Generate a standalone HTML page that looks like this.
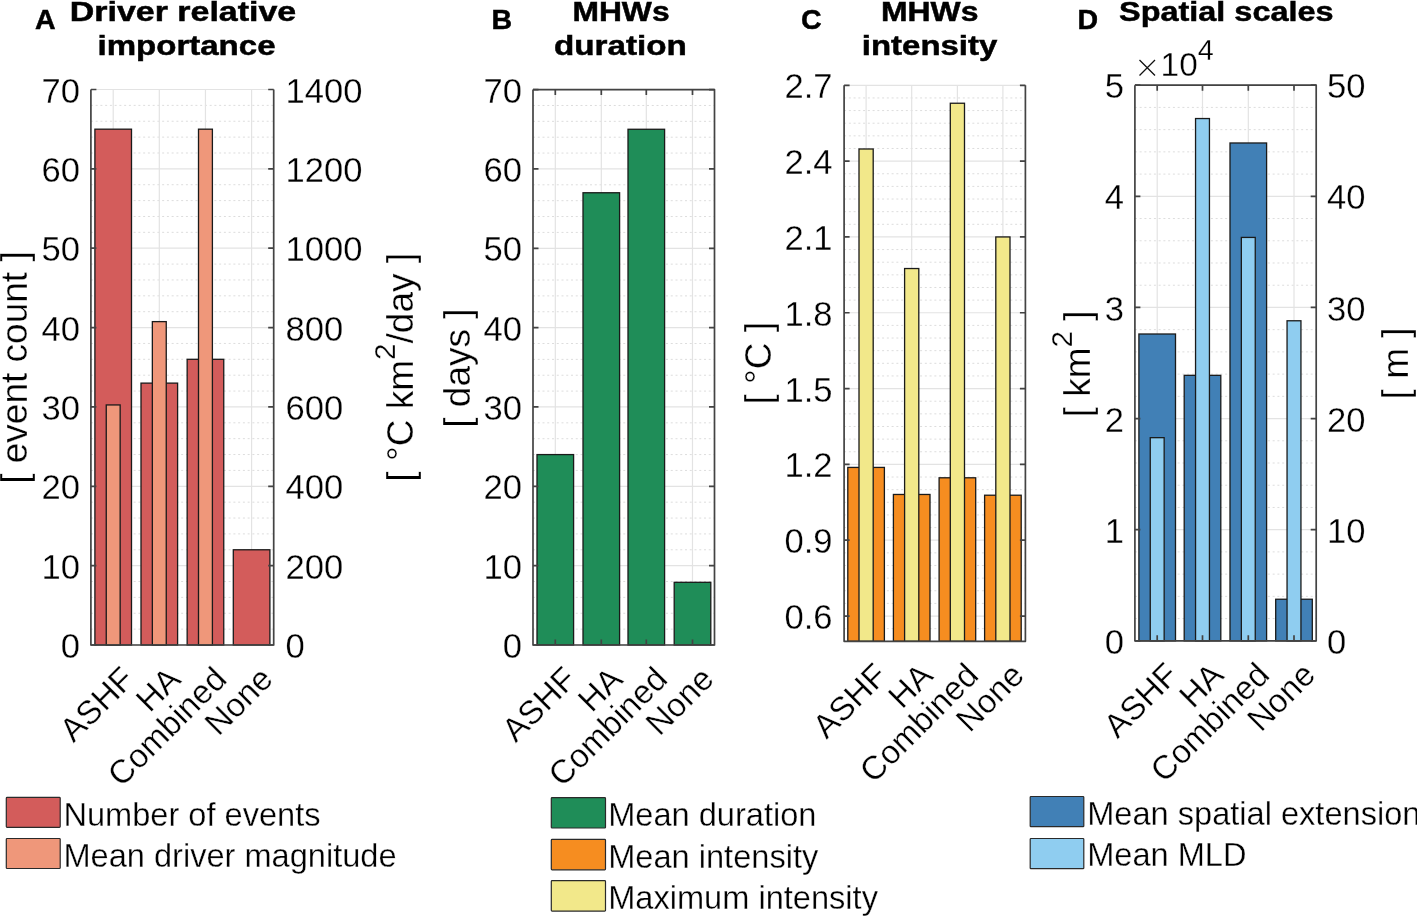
<!DOCTYPE html>
<html><head><meta charset="utf-8"><style>
html,body{margin:0;padding:0;background:#fff;overflow:hidden}
svg{display:block;will-change:transform}
text{font-family:"Liberation Sans", sans-serif;fill:#000;stroke:#fff;stroke-width:0.3px}
text.b{stroke:#000;stroke-width:0.5px}
</style></head><body>
<svg width="1417" height="917" viewBox="0 0 1417 917">
<rect width="1417" height="917" fill="#fff"/>
<line x1="90.9" y1="629.13" x2="273.7" y2="629.13" stroke="#dddddd" stroke-width="1" stroke-dasharray="2 2.75"/>
<line x1="90.9" y1="613.26" x2="273.7" y2="613.26" stroke="#dddddd" stroke-width="1" stroke-dasharray="2 2.75"/>
<line x1="90.9" y1="597.39" x2="273.7" y2="597.39" stroke="#dddddd" stroke-width="1" stroke-dasharray="2 2.75"/>
<line x1="90.9" y1="581.51" x2="273.7" y2="581.51" stroke="#dddddd" stroke-width="1" stroke-dasharray="2 2.75"/>
<line x1="90.9" y1="549.77" x2="273.7" y2="549.77" stroke="#dddddd" stroke-width="1" stroke-dasharray="2 2.75"/>
<line x1="90.9" y1="533.9" x2="273.7" y2="533.9" stroke="#dddddd" stroke-width="1" stroke-dasharray="2 2.75"/>
<line x1="90.9" y1="518.03" x2="273.7" y2="518.03" stroke="#dddddd" stroke-width="1" stroke-dasharray="2 2.75"/>
<line x1="90.9" y1="502.16" x2="273.7" y2="502.16" stroke="#dddddd" stroke-width="1" stroke-dasharray="2 2.75"/>
<line x1="90.9" y1="470.41" x2="273.7" y2="470.41" stroke="#dddddd" stroke-width="1" stroke-dasharray="2 2.75"/>
<line x1="90.9" y1="454.54" x2="273.7" y2="454.54" stroke="#dddddd" stroke-width="1" stroke-dasharray="2 2.75"/>
<line x1="90.9" y1="438.67" x2="273.7" y2="438.67" stroke="#dddddd" stroke-width="1" stroke-dasharray="2 2.75"/>
<line x1="90.9" y1="422.8" x2="273.7" y2="422.8" stroke="#dddddd" stroke-width="1" stroke-dasharray="2 2.75"/>
<line x1="90.9" y1="391.06" x2="273.7" y2="391.06" stroke="#dddddd" stroke-width="1" stroke-dasharray="2 2.75"/>
<line x1="90.9" y1="375.19" x2="273.7" y2="375.19" stroke="#dddddd" stroke-width="1" stroke-dasharray="2 2.75"/>
<line x1="90.9" y1="359.31" x2="273.7" y2="359.31" stroke="#dddddd" stroke-width="1" stroke-dasharray="2 2.75"/>
<line x1="90.9" y1="343.44" x2="273.7" y2="343.44" stroke="#dddddd" stroke-width="1" stroke-dasharray="2 2.75"/>
<line x1="90.9" y1="311.7" x2="273.7" y2="311.7" stroke="#dddddd" stroke-width="1" stroke-dasharray="2 2.75"/>
<line x1="90.9" y1="295.83" x2="273.7" y2="295.83" stroke="#dddddd" stroke-width="1" stroke-dasharray="2 2.75"/>
<line x1="90.9" y1="279.96" x2="273.7" y2="279.96" stroke="#dddddd" stroke-width="1" stroke-dasharray="2 2.75"/>
<line x1="90.9" y1="264.09" x2="273.7" y2="264.09" stroke="#dddddd" stroke-width="1" stroke-dasharray="2 2.75"/>
<line x1="90.9" y1="232.34" x2="273.7" y2="232.34" stroke="#dddddd" stroke-width="1" stroke-dasharray="2 2.75"/>
<line x1="90.9" y1="216.47" x2="273.7" y2="216.47" stroke="#dddddd" stroke-width="1" stroke-dasharray="2 2.75"/>
<line x1="90.9" y1="200.6" x2="273.7" y2="200.6" stroke="#dddddd" stroke-width="1" stroke-dasharray="2 2.75"/>
<line x1="90.9" y1="184.73" x2="273.7" y2="184.73" stroke="#dddddd" stroke-width="1" stroke-dasharray="2 2.75"/>
<line x1="90.9" y1="152.99" x2="273.7" y2="152.99" stroke="#dddddd" stroke-width="1" stroke-dasharray="2 2.75"/>
<line x1="90.9" y1="137.11" x2="273.7" y2="137.11" stroke="#dddddd" stroke-width="1" stroke-dasharray="2 2.75"/>
<line x1="90.9" y1="121.24" x2="273.7" y2="121.24" stroke="#dddddd" stroke-width="1" stroke-dasharray="2 2.75"/>
<line x1="90.9" y1="105.37" x2="273.7" y2="105.37" stroke="#dddddd" stroke-width="1" stroke-dasharray="2 2.75"/>
<line x1="90.9" y1="645" x2="273.7" y2="645" stroke="#e3e3e3" stroke-width="1.2"/>
<line x1="90.9" y1="565.64" x2="273.7" y2="565.64" stroke="#e3e3e3" stroke-width="1.2"/>
<line x1="90.9" y1="486.29" x2="273.7" y2="486.29" stroke="#e3e3e3" stroke-width="1.2"/>
<line x1="90.9" y1="406.93" x2="273.7" y2="406.93" stroke="#e3e3e3" stroke-width="1.2"/>
<line x1="90.9" y1="327.57" x2="273.7" y2="327.57" stroke="#e3e3e3" stroke-width="1.2"/>
<line x1="90.9" y1="248.21" x2="273.7" y2="248.21" stroke="#e3e3e3" stroke-width="1.2"/>
<line x1="90.9" y1="168.86" x2="273.7" y2="168.86" stroke="#e3e3e3" stroke-width="1.2"/>
<line x1="90.9" y1="89.5" x2="273.7" y2="89.5" stroke="#e3e3e3" stroke-width="1.2"/>
<line x1="113.2" y1="89.5" x2="113.2" y2="645" stroke="#e3e3e3" stroke-width="1.2"/>
<line x1="159.3" y1="89.5" x2="159.3" y2="645" stroke="#e3e3e3" stroke-width="1.2"/>
<line x1="205.45" y1="89.5" x2="205.45" y2="645" stroke="#e3e3e3" stroke-width="1.2"/>
<line x1="251.6" y1="89.5" x2="251.6" y2="645" stroke="#e3e3e3" stroke-width="1.2"/>
<rect x="94.9" y="129.18" width="36.6" height="515.82" fill="#d35c5b" stroke="#1a1a1a" stroke-width="1.3"/>
<rect x="141" y="383.12" width="36.6" height="261.88" fill="#d35c5b" stroke="#1a1a1a" stroke-width="1.3"/>
<rect x="187.15" y="359.31" width="36.6" height="285.69" fill="#d35c5b" stroke="#1a1a1a" stroke-width="1.3"/>
<rect x="233.3" y="549.77" width="36.6" height="95.23" fill="#d35c5b" stroke="#1a1a1a" stroke-width="1.3"/>
<rect x="106.25" y="404.94" width="13.9" height="240.06" fill="#ef977a" stroke="#1a1a1a" stroke-width="1.3"/>
<rect x="152.35" y="321.62" width="13.9" height="323.38" fill="#ef977a" stroke="#1a1a1a" stroke-width="1.3"/>
<rect x="198.5" y="129.18" width="13.9" height="515.82" fill="#ef977a" stroke="#1a1a1a" stroke-width="1.3"/>
<path d="M90.9 89.5 V645 H273.7 V89.5" fill="none" stroke="#434343" stroke-width="1.7" stroke-linejoin="round"/>
<path d="M90.9 645 h5.5 M273.7 645 h-5.5 M90.9 565.64 h5.5 M273.7 565.64 h-5.5 M90.9 486.29 h5.5 M273.7 486.29 h-5.5 M90.9 406.93 h5.5 M273.7 406.93 h-5.5 M90.9 327.57 h5.5 M273.7 327.57 h-5.5 M90.9 248.21 h5.5 M273.7 248.21 h-5.5 M90.9 168.86 h5.5 M273.7 168.86 h-5.5 M90.9 89.5 h5.5 M273.7 89.5 h-5.5" fill="none" stroke="#434343" stroke-width="1.7"/>
<text x="80" y="658.1" text-anchor="end" font-size="34.6">0</text>
<text x="80" y="578.74" text-anchor="end" font-size="34.6">10</text>
<text x="80" y="499.39" text-anchor="end" font-size="34.6">20</text>
<text x="80" y="420.03" text-anchor="end" font-size="34.6">30</text>
<text x="80" y="340.67" text-anchor="end" font-size="34.6">40</text>
<text x="80" y="261.31" text-anchor="end" font-size="34.6">50</text>
<text x="80" y="181.96" text-anchor="end" font-size="34.6">60</text>
<text x="80" y="102.6" text-anchor="end" font-size="34.6">70</text>
<text x="285.5" y="658.1" text-anchor="start" font-size="34.6">0</text>
<text x="285.5" y="578.74" text-anchor="start" font-size="34.6">200</text>
<text x="285.5" y="499.39" text-anchor="start" font-size="34.6">400</text>
<text x="285.5" y="420.03" text-anchor="start" font-size="34.6">600</text>
<text x="285.5" y="340.67" text-anchor="start" font-size="34.6">800</text>
<text x="285.5" y="261.31" text-anchor="start" font-size="34.6">1000</text>
<text x="285.5" y="181.96" text-anchor="start" font-size="34.6">1200</text>
<text x="285.5" y="102.6" text-anchor="start" font-size="34.6">1400</text>
<text transform="translate(136.2,681) rotate(-45)" text-anchor="end" font-size="33.2">ASHF</text>
<text transform="translate(182.3,681) rotate(-45)" text-anchor="end" font-size="33.2">HA</text>
<text transform="translate(228.45,681) rotate(-45)" text-anchor="end" font-size="33.2">Combined</text>
<text transform="translate(274.6,681) rotate(-45)" text-anchor="end" font-size="33.2">None</text>
<text transform="translate(27.3,367.55) rotate(-90)" text-anchor="middle" font-size="37">[ event count ]</text>
<text transform="translate(413,367.3) rotate(-90)" text-anchor="middle" font-size="37">[ °C km<tspan dy="-17.8" font-size="29.6">2</tspan><tspan dy="17.8">/day ]</tspan></text>
<text x="183" y="21" text-anchor="middle" font-size="27.5" font-weight="bold" class="b" textLength="226.4" lengthAdjust="spacingAndGlyphs">Driver relative</text>
<text x="186.5" y="55.4" text-anchor="middle" font-size="27.5" font-weight="bold" class="b" textLength="178" lengthAdjust="spacingAndGlyphs">importance</text>
<text x="35" y="29.3" font-size="28.5" font-weight="bold" class="b">A</text>
<line x1="533" y1="629.13" x2="714.5" y2="629.13" stroke="#dddddd" stroke-width="1" stroke-dasharray="2 2.75"/>
<line x1="533" y1="613.26" x2="714.5" y2="613.26" stroke="#dddddd" stroke-width="1" stroke-dasharray="2 2.75"/>
<line x1="533" y1="597.39" x2="714.5" y2="597.39" stroke="#dddddd" stroke-width="1" stroke-dasharray="2 2.75"/>
<line x1="533" y1="581.53" x2="714.5" y2="581.53" stroke="#dddddd" stroke-width="1" stroke-dasharray="2 2.75"/>
<line x1="533" y1="549.79" x2="714.5" y2="549.79" stroke="#dddddd" stroke-width="1" stroke-dasharray="2 2.75"/>
<line x1="533" y1="533.92" x2="714.5" y2="533.92" stroke="#dddddd" stroke-width="1" stroke-dasharray="2 2.75"/>
<line x1="533" y1="518.05" x2="714.5" y2="518.05" stroke="#dddddd" stroke-width="1" stroke-dasharray="2 2.75"/>
<line x1="533" y1="502.18" x2="714.5" y2="502.18" stroke="#dddddd" stroke-width="1" stroke-dasharray="2 2.75"/>
<line x1="533" y1="470.45" x2="714.5" y2="470.45" stroke="#dddddd" stroke-width="1" stroke-dasharray="2 2.75"/>
<line x1="533" y1="454.58" x2="714.5" y2="454.58" stroke="#dddddd" stroke-width="1" stroke-dasharray="2 2.75"/>
<line x1="533" y1="438.71" x2="714.5" y2="438.71" stroke="#dddddd" stroke-width="1" stroke-dasharray="2 2.75"/>
<line x1="533" y1="422.84" x2="714.5" y2="422.84" stroke="#dddddd" stroke-width="1" stroke-dasharray="2 2.75"/>
<line x1="533" y1="391.1" x2="714.5" y2="391.1" stroke="#dddddd" stroke-width="1" stroke-dasharray="2 2.75"/>
<line x1="533" y1="375.23" x2="714.5" y2="375.23" stroke="#dddddd" stroke-width="1" stroke-dasharray="2 2.75"/>
<line x1="533" y1="359.37" x2="714.5" y2="359.37" stroke="#dddddd" stroke-width="1" stroke-dasharray="2 2.75"/>
<line x1="533" y1="343.5" x2="714.5" y2="343.5" stroke="#dddddd" stroke-width="1" stroke-dasharray="2 2.75"/>
<line x1="533" y1="311.76" x2="714.5" y2="311.76" stroke="#dddddd" stroke-width="1" stroke-dasharray="2 2.75"/>
<line x1="533" y1="295.89" x2="714.5" y2="295.89" stroke="#dddddd" stroke-width="1" stroke-dasharray="2 2.75"/>
<line x1="533" y1="280.02" x2="714.5" y2="280.02" stroke="#dddddd" stroke-width="1" stroke-dasharray="2 2.75"/>
<line x1="533" y1="264.15" x2="714.5" y2="264.15" stroke="#dddddd" stroke-width="1" stroke-dasharray="2 2.75"/>
<line x1="533" y1="232.42" x2="714.5" y2="232.42" stroke="#dddddd" stroke-width="1" stroke-dasharray="2 2.75"/>
<line x1="533" y1="216.55" x2="714.5" y2="216.55" stroke="#dddddd" stroke-width="1" stroke-dasharray="2 2.75"/>
<line x1="533" y1="200.68" x2="714.5" y2="200.68" stroke="#dddddd" stroke-width="1" stroke-dasharray="2 2.75"/>
<line x1="533" y1="184.81" x2="714.5" y2="184.81" stroke="#dddddd" stroke-width="1" stroke-dasharray="2 2.75"/>
<line x1="533" y1="153.07" x2="714.5" y2="153.07" stroke="#dddddd" stroke-width="1" stroke-dasharray="2 2.75"/>
<line x1="533" y1="137.21" x2="714.5" y2="137.21" stroke="#dddddd" stroke-width="1" stroke-dasharray="2 2.75"/>
<line x1="533" y1="121.34" x2="714.5" y2="121.34" stroke="#dddddd" stroke-width="1" stroke-dasharray="2 2.75"/>
<line x1="533" y1="105.47" x2="714.5" y2="105.47" stroke="#dddddd" stroke-width="1" stroke-dasharray="2 2.75"/>
<line x1="533" y1="645" x2="714.5" y2="645" stroke="#e3e3e3" stroke-width="1.2"/>
<line x1="533" y1="565.66" x2="714.5" y2="565.66" stroke="#e3e3e3" stroke-width="1.2"/>
<line x1="533" y1="486.31" x2="714.5" y2="486.31" stroke="#e3e3e3" stroke-width="1.2"/>
<line x1="533" y1="406.97" x2="714.5" y2="406.97" stroke="#e3e3e3" stroke-width="1.2"/>
<line x1="533" y1="327.63" x2="714.5" y2="327.63" stroke="#e3e3e3" stroke-width="1.2"/>
<line x1="533" y1="248.29" x2="714.5" y2="248.29" stroke="#e3e3e3" stroke-width="1.2"/>
<line x1="533" y1="168.94" x2="714.5" y2="168.94" stroke="#e3e3e3" stroke-width="1.2"/>
<line x1="533" y1="89.6" x2="714.5" y2="89.6" stroke="#e3e3e3" stroke-width="1.2"/>
<line x1="555.3" y1="89.6" x2="555.3" y2="645" stroke="#e3e3e3" stroke-width="1.2"/>
<line x1="601.3" y1="89.6" x2="601.3" y2="645" stroke="#e3e3e3" stroke-width="1.2"/>
<line x1="646.3" y1="89.6" x2="646.3" y2="645" stroke="#e3e3e3" stroke-width="1.2"/>
<line x1="692.5" y1="89.6" x2="692.5" y2="645" stroke="#e3e3e3" stroke-width="1.2"/>
<rect x="537" y="454.58" width="36.6" height="190.42" fill="#1f8d58" stroke="#1a1a1a" stroke-width="1.3"/>
<rect x="583" y="192.75" width="36.6" height="452.25" fill="#1f8d58" stroke="#1a1a1a" stroke-width="1.3"/>
<rect x="628" y="129.27" width="36.6" height="515.73" fill="#1f8d58" stroke="#1a1a1a" stroke-width="1.3"/>
<rect x="674.2" y="582.32" width="36.6" height="62.68" fill="#1f8d58" stroke="#1a1a1a" stroke-width="1.3"/>
<path d="M533 89.6 V645 H714.5 V89.6 H533" fill="none" stroke="#434343" stroke-width="1.7" stroke-linejoin="round"/>
<path d="M533 645 h5.5 M714.5 645 h-5.5 M533 565.66 h5.5 M714.5 565.66 h-5.5 M533 486.31 h5.5 M714.5 486.31 h-5.5 M533 406.97 h5.5 M714.5 406.97 h-5.5 M533 327.63 h5.5 M714.5 327.63 h-5.5 M533 248.29 h5.5 M714.5 248.29 h-5.5 M533 168.94 h5.5 M714.5 168.94 h-5.5 M533 89.6 h5.5 M714.5 89.6 h-5.5 M555.3 89.6 v5.5 M601.3 89.6 v5.5 M646.3 89.6 v5.5 M692.5 89.6 v5.5 M555.3 645 v-5.5 M601.3 645 v-5.5 M646.3 645 v-5.5 M692.5 645 v-5.5" fill="none" stroke="#434343" stroke-width="1.7"/>
<text x="522" y="658.1" text-anchor="end" font-size="34.6">0</text>
<text x="522" y="578.76" text-anchor="end" font-size="34.6">10</text>
<text x="522" y="499.41" text-anchor="end" font-size="34.6">20</text>
<text x="522" y="420.07" text-anchor="end" font-size="34.6">30</text>
<text x="522" y="340.73" text-anchor="end" font-size="34.6">40</text>
<text x="522" y="261.39" text-anchor="end" font-size="34.6">50</text>
<text x="522" y="182.04" text-anchor="end" font-size="34.6">60</text>
<text x="522" y="102.7" text-anchor="end" font-size="34.6">70</text>
<text transform="translate(578.3,681) rotate(-45)" text-anchor="end" font-size="33.2">ASHF</text>
<text transform="translate(624.3,681) rotate(-45)" text-anchor="end" font-size="33.2">HA</text>
<text transform="translate(669.3,681) rotate(-45)" text-anchor="end" font-size="33.2">Combined</text>
<text transform="translate(715.5,681) rotate(-45)" text-anchor="end" font-size="33.2">None</text>
<text transform="translate(469.5,368.1) rotate(-90)" text-anchor="middle" font-size="37">[ days ]</text>
<text x="621" y="21" text-anchor="middle" font-size="27.5" font-weight="bold" class="b" textLength="97.2" lengthAdjust="spacingAndGlyphs">MHWs</text>
<text x="620.35" y="55.4" text-anchor="middle" font-size="27.5" font-weight="bold" class="b" textLength="132.9" lengthAdjust="spacingAndGlyphs">duration</text>
<text x="491.5" y="29.3" font-size="28.5" font-weight="bold" class="b">B</text>
<line x1="844.1" y1="641.3" x2="1025.4" y2="641.3" stroke="#dddddd" stroke-width="1" stroke-dasharray="2 2.75"/>
<line x1="844.1" y1="628.66" x2="1025.4" y2="628.66" stroke="#dddddd" stroke-width="1" stroke-dasharray="2 2.75"/>
<line x1="844.1" y1="603.39" x2="1025.4" y2="603.39" stroke="#dddddd" stroke-width="1" stroke-dasharray="2 2.75"/>
<line x1="844.1" y1="590.75" x2="1025.4" y2="590.75" stroke="#dddddd" stroke-width="1" stroke-dasharray="2 2.75"/>
<line x1="844.1" y1="578.12" x2="1025.4" y2="578.12" stroke="#dddddd" stroke-width="1" stroke-dasharray="2 2.75"/>
<line x1="844.1" y1="565.48" x2="1025.4" y2="565.48" stroke="#dddddd" stroke-width="1" stroke-dasharray="2 2.75"/>
<line x1="844.1" y1="552.85" x2="1025.4" y2="552.85" stroke="#dddddd" stroke-width="1" stroke-dasharray="2 2.75"/>
<line x1="844.1" y1="527.57" x2="1025.4" y2="527.57" stroke="#dddddd" stroke-width="1" stroke-dasharray="2 2.75"/>
<line x1="844.1" y1="514.94" x2="1025.4" y2="514.94" stroke="#dddddd" stroke-width="1" stroke-dasharray="2 2.75"/>
<line x1="844.1" y1="502.3" x2="1025.4" y2="502.3" stroke="#dddddd" stroke-width="1" stroke-dasharray="2 2.75"/>
<line x1="844.1" y1="489.66" x2="1025.4" y2="489.66" stroke="#dddddd" stroke-width="1" stroke-dasharray="2 2.75"/>
<line x1="844.1" y1="477.03" x2="1025.4" y2="477.03" stroke="#dddddd" stroke-width="1" stroke-dasharray="2 2.75"/>
<line x1="844.1" y1="451.75" x2="1025.4" y2="451.75" stroke="#dddddd" stroke-width="1" stroke-dasharray="2 2.75"/>
<line x1="844.1" y1="439.12" x2="1025.4" y2="439.12" stroke="#dddddd" stroke-width="1" stroke-dasharray="2 2.75"/>
<line x1="844.1" y1="426.48" x2="1025.4" y2="426.48" stroke="#dddddd" stroke-width="1" stroke-dasharray="2 2.75"/>
<line x1="844.1" y1="413.85" x2="1025.4" y2="413.85" stroke="#dddddd" stroke-width="1" stroke-dasharray="2 2.75"/>
<line x1="844.1" y1="401.21" x2="1025.4" y2="401.21" stroke="#dddddd" stroke-width="1" stroke-dasharray="2 2.75"/>
<line x1="844.1" y1="375.94" x2="1025.4" y2="375.94" stroke="#dddddd" stroke-width="1" stroke-dasharray="2 2.75"/>
<line x1="844.1" y1="363.3" x2="1025.4" y2="363.3" stroke="#dddddd" stroke-width="1" stroke-dasharray="2 2.75"/>
<line x1="844.1" y1="350.66" x2="1025.4" y2="350.66" stroke="#dddddd" stroke-width="1" stroke-dasharray="2 2.75"/>
<line x1="844.1" y1="338.03" x2="1025.4" y2="338.03" stroke="#dddddd" stroke-width="1" stroke-dasharray="2 2.75"/>
<line x1="844.1" y1="325.39" x2="1025.4" y2="325.39" stroke="#dddddd" stroke-width="1" stroke-dasharray="2 2.75"/>
<line x1="844.1" y1="300.12" x2="1025.4" y2="300.12" stroke="#dddddd" stroke-width="1" stroke-dasharray="2 2.75"/>
<line x1="844.1" y1="287.48" x2="1025.4" y2="287.48" stroke="#dddddd" stroke-width="1" stroke-dasharray="2 2.75"/>
<line x1="844.1" y1="274.85" x2="1025.4" y2="274.85" stroke="#dddddd" stroke-width="1" stroke-dasharray="2 2.75"/>
<line x1="844.1" y1="262.21" x2="1025.4" y2="262.21" stroke="#dddddd" stroke-width="1" stroke-dasharray="2 2.75"/>
<line x1="844.1" y1="249.57" x2="1025.4" y2="249.57" stroke="#dddddd" stroke-width="1" stroke-dasharray="2 2.75"/>
<line x1="844.1" y1="224.3" x2="1025.4" y2="224.3" stroke="#dddddd" stroke-width="1" stroke-dasharray="2 2.75"/>
<line x1="844.1" y1="211.66" x2="1025.4" y2="211.66" stroke="#dddddd" stroke-width="1" stroke-dasharray="2 2.75"/>
<line x1="844.1" y1="199.03" x2="1025.4" y2="199.03" stroke="#dddddd" stroke-width="1" stroke-dasharray="2 2.75"/>
<line x1="844.1" y1="186.39" x2="1025.4" y2="186.39" stroke="#dddddd" stroke-width="1" stroke-dasharray="2 2.75"/>
<line x1="844.1" y1="173.75" x2="1025.4" y2="173.75" stroke="#dddddd" stroke-width="1" stroke-dasharray="2 2.75"/>
<line x1="844.1" y1="148.48" x2="1025.4" y2="148.48" stroke="#dddddd" stroke-width="1" stroke-dasharray="2 2.75"/>
<line x1="844.1" y1="135.85" x2="1025.4" y2="135.85" stroke="#dddddd" stroke-width="1" stroke-dasharray="2 2.75"/>
<line x1="844.1" y1="123.21" x2="1025.4" y2="123.21" stroke="#dddddd" stroke-width="1" stroke-dasharray="2 2.75"/>
<line x1="844.1" y1="110.57" x2="1025.4" y2="110.57" stroke="#dddddd" stroke-width="1" stroke-dasharray="2 2.75"/>
<line x1="844.1" y1="97.94" x2="1025.4" y2="97.94" stroke="#dddddd" stroke-width="1" stroke-dasharray="2 2.75"/>
<line x1="844.1" y1="616.03" x2="1025.4" y2="616.03" stroke="#e3e3e3" stroke-width="1.2"/>
<line x1="844.1" y1="540.21" x2="1025.4" y2="540.21" stroke="#e3e3e3" stroke-width="1.2"/>
<line x1="844.1" y1="464.39" x2="1025.4" y2="464.39" stroke="#e3e3e3" stroke-width="1.2"/>
<line x1="844.1" y1="388.57" x2="1025.4" y2="388.57" stroke="#e3e3e3" stroke-width="1.2"/>
<line x1="844.1" y1="312.75" x2="1025.4" y2="312.75" stroke="#e3e3e3" stroke-width="1.2"/>
<line x1="844.1" y1="236.94" x2="1025.4" y2="236.94" stroke="#e3e3e3" stroke-width="1.2"/>
<line x1="844.1" y1="161.12" x2="1025.4" y2="161.12" stroke="#e3e3e3" stroke-width="1.2"/>
<line x1="844.1" y1="85.3" x2="1025.4" y2="85.3" stroke="#e3e3e3" stroke-width="1.2"/>
<line x1="866.1" y1="85.3" x2="866.1" y2="641.3" stroke="#e3e3e3" stroke-width="1.2"/>
<line x1="911.7" y1="85.3" x2="911.7" y2="641.3" stroke="#e3e3e3" stroke-width="1.2"/>
<line x1="957.4" y1="85.3" x2="957.4" y2="641.3" stroke="#e3e3e3" stroke-width="1.2"/>
<line x1="1002.9" y1="85.3" x2="1002.9" y2="641.3" stroke="#e3e3e3" stroke-width="1.2"/>
<rect x="847.8" y="467.42" width="36.6" height="173.88" fill="#f68d20" stroke="#1a1a1a" stroke-width="1.3"/>
<rect x="893.4" y="494.47" width="36.6" height="146.83" fill="#f68d20" stroke="#1a1a1a" stroke-width="1.3"/>
<rect x="939.1" y="477.79" width="36.6" height="163.51" fill="#f68d20" stroke="#1a1a1a" stroke-width="1.3"/>
<rect x="984.6" y="495.22" width="36.6" height="146.08" fill="#f68d20" stroke="#1a1a1a" stroke-width="1.3"/>
<rect x="859" y="148.99" width="14.2" height="492.31" fill="#f2e88a" stroke="#1a1a1a" stroke-width="1.3"/>
<rect x="904.6" y="268.53" width="14.2" height="372.77" fill="#f2e88a" stroke="#1a1a1a" stroke-width="1.3"/>
<rect x="950.3" y="103.24" width="14.2" height="538.06" fill="#f2e88a" stroke="#1a1a1a" stroke-width="1.3"/>
<rect x="995.8" y="236.94" width="14.2" height="404.36" fill="#f2e88a" stroke="#1a1a1a" stroke-width="1.3"/>
<path d="M844.1 85.3 V641.3 H1025.4 V85.3" fill="none" stroke="#434343" stroke-width="1.7" stroke-linejoin="round"/>
<path d="M844.1 616.03 h5.5 M1025.4 616.03 h-5.5 M844.1 540.21 h5.5 M1025.4 540.21 h-5.5 M844.1 464.39 h5.5 M1025.4 464.39 h-5.5 M844.1 388.57 h5.5 M1025.4 388.57 h-5.5 M844.1 312.75 h5.5 M1025.4 312.75 h-5.5 M844.1 236.94 h5.5 M1025.4 236.94 h-5.5 M844.1 161.12 h5.5 M1025.4 161.12 h-5.5 M844.1 85.3 h5.5 M1025.4 85.3 h-5.5" fill="none" stroke="#434343" stroke-width="1.7"/>
<text x="832.5" y="629.13" text-anchor="end" font-size="34.6">0.6</text>
<text x="832.5" y="553.31" text-anchor="end" font-size="34.6">0.9</text>
<text x="832.5" y="477.49" text-anchor="end" font-size="34.6">1.2</text>
<text x="832.5" y="401.67" text-anchor="end" font-size="34.6">1.5</text>
<text x="832.5" y="325.85" text-anchor="end" font-size="34.6">1.8</text>
<text x="832.5" y="250.04" text-anchor="end" font-size="34.6">2.1</text>
<text x="832.5" y="174.22" text-anchor="end" font-size="34.6">2.4</text>
<text x="832.5" y="98.4" text-anchor="end" font-size="34.6">2.7</text>
<text transform="translate(889.1,677.3) rotate(-45)" text-anchor="end" font-size="33.2">ASHF</text>
<text transform="translate(934.7,677.3) rotate(-45)" text-anchor="end" font-size="33.2">HA</text>
<text transform="translate(980.4,677.3) rotate(-45)" text-anchor="end" font-size="33.2">Combined</text>
<text transform="translate(1025.9,677.3) rotate(-45)" text-anchor="end" font-size="33.2">None</text>
<text transform="translate(770.7,363.25) rotate(-90)" text-anchor="middle" font-size="37">[ °C ]</text>
<text x="929.75" y="21" text-anchor="middle" font-size="27.5" font-weight="bold" class="b" textLength="97.5" lengthAdjust="spacingAndGlyphs">MHWs</text>
<text x="929.55" y="55.4" text-anchor="middle" font-size="27.5" font-weight="bold" class="b" textLength="135.5" lengthAdjust="spacingAndGlyphs">intensity</text>
<text x="801" y="29.3" font-size="28.5" font-weight="bold" class="b">C</text>
<line x1="1134.9" y1="618.58" x2="1316.2" y2="618.58" stroke="#dddddd" stroke-width="1" stroke-dasharray="2 2.75"/>
<line x1="1134.9" y1="596.35" x2="1316.2" y2="596.35" stroke="#dddddd" stroke-width="1" stroke-dasharray="2 2.75"/>
<line x1="1134.9" y1="574.13" x2="1316.2" y2="574.13" stroke="#dddddd" stroke-width="1" stroke-dasharray="2 2.75"/>
<line x1="1134.9" y1="551.9" x2="1316.2" y2="551.9" stroke="#dddddd" stroke-width="1" stroke-dasharray="2 2.75"/>
<line x1="1134.9" y1="507.46" x2="1316.2" y2="507.46" stroke="#dddddd" stroke-width="1" stroke-dasharray="2 2.75"/>
<line x1="1134.9" y1="485.23" x2="1316.2" y2="485.23" stroke="#dddddd" stroke-width="1" stroke-dasharray="2 2.75"/>
<line x1="1134.9" y1="463.01" x2="1316.2" y2="463.01" stroke="#dddddd" stroke-width="1" stroke-dasharray="2 2.75"/>
<line x1="1134.9" y1="440.78" x2="1316.2" y2="440.78" stroke="#dddddd" stroke-width="1" stroke-dasharray="2 2.75"/>
<line x1="1134.9" y1="396.34" x2="1316.2" y2="396.34" stroke="#dddddd" stroke-width="1" stroke-dasharray="2 2.75"/>
<line x1="1134.9" y1="374.11" x2="1316.2" y2="374.11" stroke="#dddddd" stroke-width="1" stroke-dasharray="2 2.75"/>
<line x1="1134.9" y1="351.89" x2="1316.2" y2="351.89" stroke="#dddddd" stroke-width="1" stroke-dasharray="2 2.75"/>
<line x1="1134.9" y1="329.66" x2="1316.2" y2="329.66" stroke="#dddddd" stroke-width="1" stroke-dasharray="2 2.75"/>
<line x1="1134.9" y1="285.22" x2="1316.2" y2="285.22" stroke="#dddddd" stroke-width="1" stroke-dasharray="2 2.75"/>
<line x1="1134.9" y1="262.99" x2="1316.2" y2="262.99" stroke="#dddddd" stroke-width="1" stroke-dasharray="2 2.75"/>
<line x1="1134.9" y1="240.77" x2="1316.2" y2="240.77" stroke="#dddddd" stroke-width="1" stroke-dasharray="2 2.75"/>
<line x1="1134.9" y1="218.54" x2="1316.2" y2="218.54" stroke="#dddddd" stroke-width="1" stroke-dasharray="2 2.75"/>
<line x1="1134.9" y1="174.1" x2="1316.2" y2="174.1" stroke="#dddddd" stroke-width="1" stroke-dasharray="2 2.75"/>
<line x1="1134.9" y1="151.87" x2="1316.2" y2="151.87" stroke="#dddddd" stroke-width="1" stroke-dasharray="2 2.75"/>
<line x1="1134.9" y1="129.65" x2="1316.2" y2="129.65" stroke="#dddddd" stroke-width="1" stroke-dasharray="2 2.75"/>
<line x1="1134.9" y1="107.42" x2="1316.2" y2="107.42" stroke="#dddddd" stroke-width="1" stroke-dasharray="2 2.75"/>
<line x1="1134.9" y1="640.8" x2="1316.2" y2="640.8" stroke="#e3e3e3" stroke-width="1.2"/>
<line x1="1134.9" y1="529.68" x2="1316.2" y2="529.68" stroke="#e3e3e3" stroke-width="1.2"/>
<line x1="1134.9" y1="418.56" x2="1316.2" y2="418.56" stroke="#e3e3e3" stroke-width="1.2"/>
<line x1="1134.9" y1="307.44" x2="1316.2" y2="307.44" stroke="#e3e3e3" stroke-width="1.2"/>
<line x1="1134.9" y1="196.32" x2="1316.2" y2="196.32" stroke="#e3e3e3" stroke-width="1.2"/>
<line x1="1134.9" y1="85.2" x2="1316.2" y2="85.2" stroke="#e3e3e3" stroke-width="1.2"/>
<line x1="1157.2" y1="85.2" x2="1157.2" y2="640.8" stroke="#e3e3e3" stroke-width="1.2"/>
<line x1="1202.5" y1="85.2" x2="1202.5" y2="640.8" stroke="#e3e3e3" stroke-width="1.2"/>
<line x1="1248.3" y1="85.2" x2="1248.3" y2="640.8" stroke="#e3e3e3" stroke-width="1.2"/>
<line x1="1294" y1="85.2" x2="1294" y2="640.8" stroke="#e3e3e3" stroke-width="1.2"/>
<rect x="1138.9" y="334" width="36.6" height="306.8" fill="#4180b6" stroke="#1a1a1a" stroke-width="1.3"/>
<rect x="1184.2" y="375.33" width="36.6" height="265.47" fill="#4180b6" stroke="#1a1a1a" stroke-width="1.3"/>
<rect x="1230" y="142.98" width="36.6" height="497.82" fill="#4180b6" stroke="#1a1a1a" stroke-width="1.3"/>
<rect x="1275.7" y="599.24" width="36.6" height="41.56" fill="#4180b6" stroke="#1a1a1a" stroke-width="1.3"/>
<rect x="1150.25" y="437.67" width="13.9" height="203.13" fill="#8fcdf0" stroke="#1a1a1a" stroke-width="1.3"/>
<rect x="1195.55" y="118.54" width="13.9" height="522.26" fill="#8fcdf0" stroke="#1a1a1a" stroke-width="1.3"/>
<rect x="1241.35" y="237.43" width="13.9" height="403.37" fill="#8fcdf0" stroke="#1a1a1a" stroke-width="1.3"/>
<rect x="1287.05" y="320.77" width="13.9" height="320.03" fill="#8fcdf0" stroke="#1a1a1a" stroke-width="1.3"/>
<path d="M1134.9 85.2 V640.8 H1316.2 V85.2 H1134.9" fill="none" stroke="#434343" stroke-width="1.7" stroke-linejoin="round"/>
<path d="M1134.9 640.8 h5.5 M1316.2 640.8 h-5.5 M1134.9 529.68 h5.5 M1316.2 529.68 h-5.5 M1134.9 418.56 h5.5 M1316.2 418.56 h-5.5 M1134.9 307.44 h5.5 M1316.2 307.44 h-5.5 M1134.9 196.32 h5.5 M1316.2 196.32 h-5.5 M1134.9 85.2 h5.5 M1316.2 85.2 h-5.5 M1157.2 85.2 v5.5 M1202.5 85.2 v5.5 M1248.3 85.2 v5.5 M1294 85.2 v5.5 M1157.2 640.8 v-5.5 M1202.5 640.8 v-5.5 M1248.3 640.8 v-5.5 M1294 640.8 v-5.5" fill="none" stroke="#434343" stroke-width="1.7"/>
<text x="1124" y="653.9" text-anchor="end" font-size="34.6">0</text>
<text x="1124" y="542.78" text-anchor="end" font-size="34.6">1</text>
<text x="1124" y="431.66" text-anchor="end" font-size="34.6">2</text>
<text x="1124" y="320.54" text-anchor="end" font-size="34.6">3</text>
<text x="1124" y="209.42" text-anchor="end" font-size="34.6">4</text>
<text x="1124" y="98.3" text-anchor="end" font-size="34.6">5</text>
<text x="1327" y="653.9" text-anchor="start" font-size="34.6">0</text>
<text x="1327" y="542.78" text-anchor="start" font-size="34.6">10</text>
<text x="1327" y="431.66" text-anchor="start" font-size="34.6">20</text>
<text x="1327" y="320.54" text-anchor="start" font-size="34.6">30</text>
<text x="1327" y="209.42" text-anchor="start" font-size="34.6">40</text>
<text x="1327" y="98.3" text-anchor="start" font-size="34.6">50</text>
<text transform="translate(1180.2,676.8) rotate(-45)" text-anchor="end" font-size="33.2">ASHF</text>
<text transform="translate(1225.5,676.8) rotate(-45)" text-anchor="end" font-size="33.2">HA</text>
<text transform="translate(1271.3,676.8) rotate(-45)" text-anchor="end" font-size="33.2">Combined</text>
<text transform="translate(1317,676.8) rotate(-45)" text-anchor="end" font-size="33.2">None</text>
<text transform="translate(1090,363.85) rotate(-90)" text-anchor="middle" font-size="37">[ km<tspan dy="-17.8" font-size="29.6">2</tspan><tspan dy="17.8"> ]</tspan></text>
<text transform="translate(1408.2,363.45) rotate(-90)" text-anchor="middle" font-size="37">[ m ]</text>
<path d="M1139.5 60 L1155 75.5 M1155 60 L1139.5 75.5" stroke="#111" stroke-width="1.3" fill="none"/>
<text x="1160.6" y="76" font-size="33.4">10<tspan dy="-16.3" font-size="28.8">4</tspan></text>
<text x="1226.3" y="21" text-anchor="middle" font-size="27.5" font-weight="bold" class="b" textLength="214.5" lengthAdjust="spacingAndGlyphs">Spatial scales</text>
<text x="1077.5" y="29.3" font-size="28.5" font-weight="bold" class="b">D</text>
<rect x="6.3" y="797.4" width="53.9" height="30" rx="0.8" fill="#d35c5b" stroke="#2a2a2a" stroke-width="1.2"/>
<text x="63.4" y="826" font-size="32.6">Number of events</text>
<rect x="6.3" y="838.5" width="53.9" height="30" rx="0.8" fill="#ef977a" stroke="#2a2a2a" stroke-width="1.2"/>
<text x="63.4" y="867" font-size="32.6">Mean driver magnitude</text>
<rect x="551.3" y="797.6" width="54.2" height="30.4" rx="0.8" fill="#1f8d58" stroke="#2a2a2a" stroke-width="1.2"/>
<text x="608.2" y="826.1" font-size="32.6">Mean duration</text>
<rect x="551.3" y="839.4" width="54.2" height="30.4" rx="0.8" fill="#f68d20" stroke="#2a2a2a" stroke-width="1.2"/>
<text x="608.2" y="867.65" font-size="32.6">Mean intensity</text>
<rect x="551.3" y="880.7" width="54.2" height="30.4" rx="0.8" fill="#f2e88a" stroke="#2a2a2a" stroke-width="1.2"/>
<text x="608.2" y="909.2" font-size="32.6">Maximum intensity</text>
<rect x="1030.2" y="796.5" width="53.6" height="30.2" rx="0.8" fill="#4180b6" stroke="#2a2a2a" stroke-width="1.2"/>
<text x="1087.2" y="824.9" font-size="32.6">Mean spatial extension</text>
<rect x="1030.2" y="838.5" width="53.6" height="30.2" rx="0.8" fill="#8fcdf0" stroke="#2a2a2a" stroke-width="1.2"/>
<text x="1087.2" y="866.4" font-size="32.6">Mean MLD</text>
</svg></body></html>
